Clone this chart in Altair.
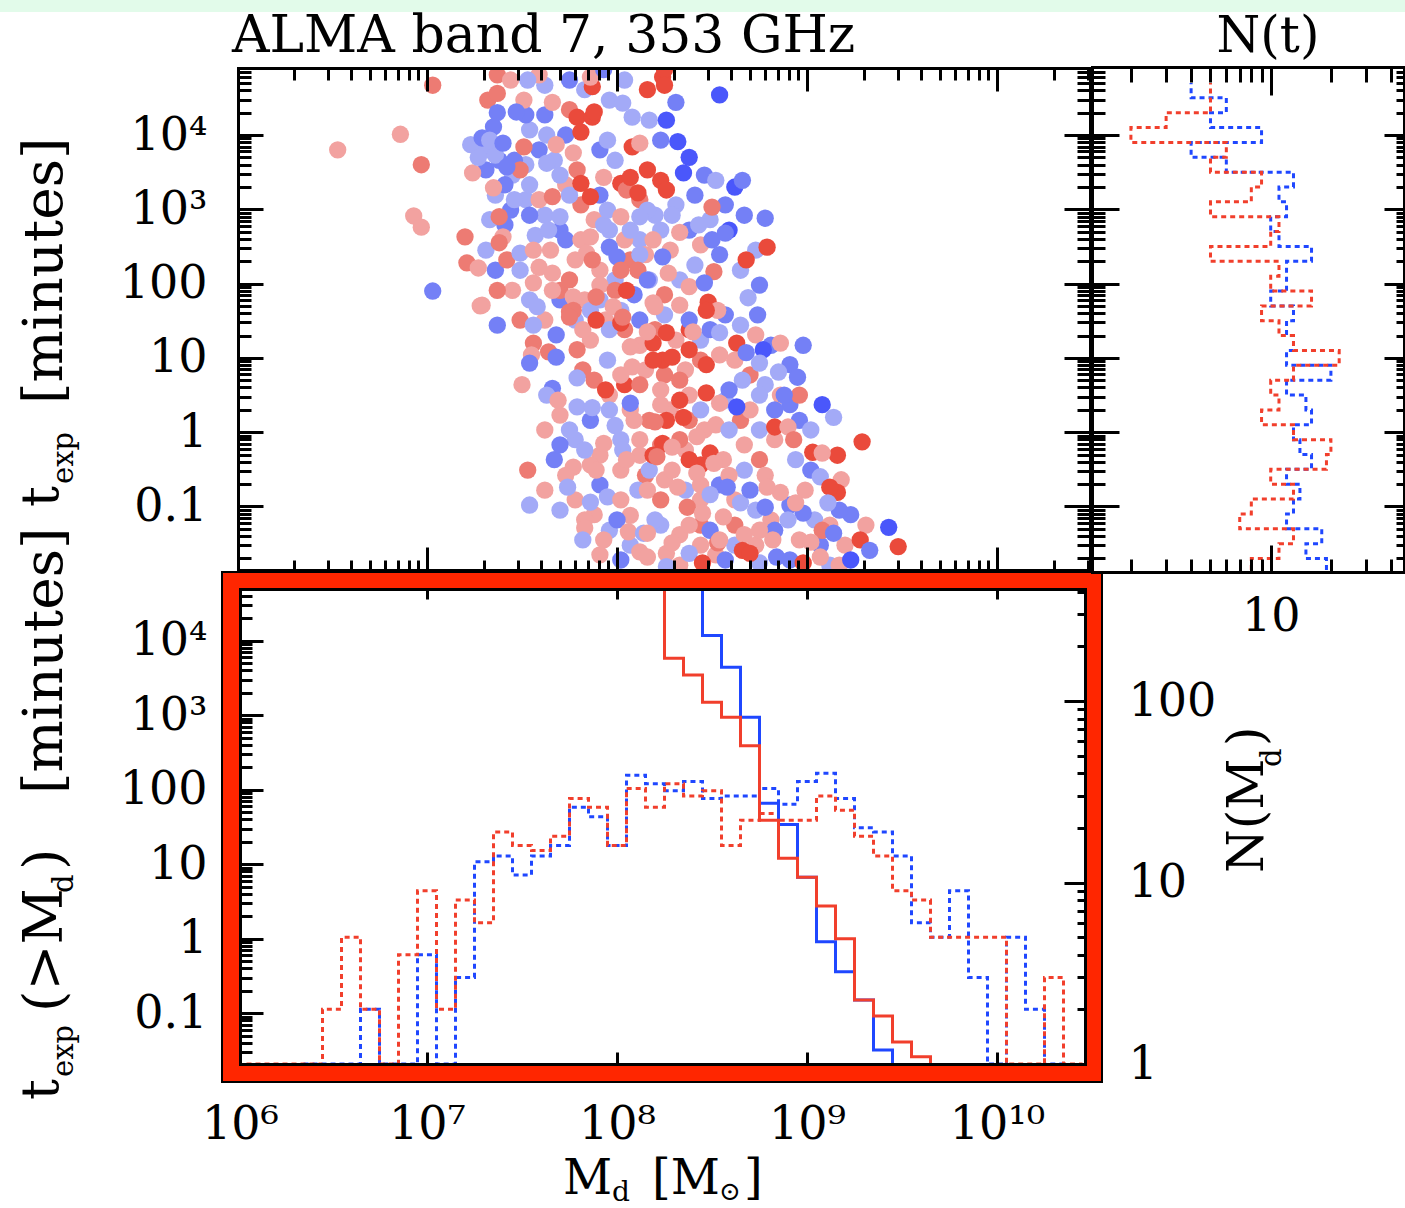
import math
import altair as alt
import pandas as pd

alt.data_transformers.disable_max_rows()

FONT = "DejaVu Serif"
W, H = 1405, 1208

# ============================ DATA ============================
# scatter points: (log10 M_d [Msun], log10 t_exp [min], shade class)
SC_CORE = [
    (7.31, 3.80, 'B1'), (7.38, 3.66, 'B2'), (7.45, 3.46, 'B1'), (7.52, 3.60, 'B1'), (7.59, 3.80, 'B2'),
    (7.67, 3.66, 'B1'), (7.36, 3.19, 'B1'), (7.44, 2.99, 'B2'), (7.52, 3.13, 'B1'), (7.62, 2.92, 'B1'),
    (7.70, 2.72, 'B2'), (7.33, 2.86, 'B1'), (7.41, 2.79, 'B2'), (7.57, 2.65, 'B1'), (7.65, 2.45, 'R1'),
    (7.49, 2.18, 'B1'), (7.31, 2.45, 'B1'), (7.36, 2.18, 'B2'), (7.45, 1.91, 'R1'), (7.54, 1.78, 'B1'),
    (7.62, 1.51, 'R1'), (7.70, 1.78, 'B2'), (7.78, 1.51, 'B1'), (7.86, 1.24, 'R1'), (7.91, 1.78, 'B1'),
    (8.02, 1.64, 'B1'), (8.09, 1.85, 'B2'), (8.17, 2.05, 'B1'), (8.25, 1.85, 'R2'), (8.33, 2.05, 'B1'),
    (8.41, 2.25, 'B1'), (8.44, 2.52, 'R1'), (8.38, 2.72, 'B2'), (8.23, 2.72, 'B1'), (8.28, 2.45, 'R1'),
    (8.12, 2.59, 'B1'),
    (7.73, 3.33, 'R1'), (7.81, 3.06, 'R2'), (7.88, 2.86, 'R1'), (7.96, 2.72, 'B1'), (8.04, 2.59, 'R1'),
    (7.91, 3.19, 'B2'), (8.12, 3.13, 'R2'), (8.20, 2.92, 'B1'), (7.78, 2.32, 'R1'), (7.91, 2.18, 'R1'),
    (7.99, 2.05, 'B1'), (8.07, 2.32, 'R2'), (8.15, 2.39, 'R1'), (7.70, 1.91, 'R2'), (7.83, 1.78, 'R1'),
    (7.94, 1.51, 'R1'), (8.04, 1.38, 'R2'), (8.12, 1.17, 'R1'), (8.20, 1.38, 'R2'), (8.31, 1.24, 'R1'),
    (8.38, 1.38, 'R3'), (8.44, 0.97, 'R2'), (8.36, 0.84, 'R1'), (8.25, 0.77, 'R2'), (8.15, 0.84, 'R1'),
    (8.04, 0.64, 'R3'), (7.96, 0.50, 'R1'), (7.88, 0.70, 'R2'), (8.07, 0.30, 'R1'), (8.17, 0.16, 'R2'),
    (8.28, 0.30, 'R1'), (8.38, 0.16, 'R2'), (8.46, 0.03, 'R1'), (8.12, -0.10, 'R1'), (8.23, -0.17, 'R2'),
    (8.36, -0.24, 'R1'), (8.44, -0.44, 'R3'), (8.02, -0.51, 'R1'), (8.15, -0.58, 'R2'), (7.91, -0.31, 'R1'),
    (8.57, 1.58, 'B2'), (8.65, 1.44, 'B1'), (8.73, 1.31, 'R1'), (8.81, 1.17, 'B2'), (8.62, 0.97, 'R1'),
    (8.70, 0.77, 'R2'), (8.78, 0.64, 'B1'), (8.86, 0.50, 'R1'), (8.57, 0.43, 'B1'), (8.65, 0.16, 'R2'),
    (8.75, 0.03, 'B1'), (8.83, -0.10, 'R1'), (8.91, 0.37, 'B2'), (8.96, 0.50, 'R2'),
    (8.17, -0.51, 'B1'), (8.25, -0.64, 'R1'), (8.36, -0.78, 'B1'), (8.44, -0.91, 'R1'), (8.54, -0.71, 'B2'),
    (8.62, -0.91, 'R1'), (8.73, -1.05, 'B1'), (8.81, -1.18, 'R1'), (8.91, -0.98, 'B2'), (8.99, -0.78, 'R1'),
    (9.04, -1.18, 'B1'), (9.12, -1.25, 'R1'), (9.23, -1.11, 'B2'), (8.23, -1.25, 'B1'), (8.33, -1.38, 'R1'),
    (8.44, -1.25, 'R2'), (8.52, -1.65, 'R1'), (8.62, -1.52, 'B1'), (8.73, -1.52, 'R1'), (8.83, -1.32, 'B2'),
    (8.96, -1.45, 'R1'), (9.07, -1.52, 'B2'), (9.20, -1.52, 'R1'), (9.31, -1.25, 'R1'), (8.07, -1.52, 'B1'),
    (7.96, -1.32, 'B1'), (7.88, -1.11, 'R1'),
    (7.70, 0.23, 'R1'), (7.78, -0.10, 'B1'), (7.86, -0.44, 'R1'), (7.91, -0.71, 'B2'), (7.78, -0.91, 'R1'),
    (7.70, -1.05, 'B1'), (7.83, -1.18, 'R1'), (8.02, -0.10, 'B1'), (8.12, -0.31, 'R1'), (7.67, -0.37, 'B2'),
    (7.62, -0.78, 'R1'), (7.54, -0.98, 'B1'),
    (8.41, 3.19, 'B2'), (8.49, 2.86, 'B1'), (8.59, 2.72, 'B3'), (8.67, 2.92, 'B2'), (8.73, 2.45, 'B1'),
    (8.54, 2.39, 'B2'), (8.65, 2.18, 'B1'), (8.75, 1.98, 'B2'),
]
SC_FILL = [
    (8.07, 2.72, 'B1'), (8.12, 2.39, 'B1'), (7.93, 2.79, 'B1'), (7.70, 2.90, 'B1'), (7.73, 2.59, 'B2'),
    (7.64, 2.72, 'B1'), (7.54, 2.92, 'B2'), (7.46, 3.13, 'B1'), (7.41, 3.33, 'B2'), (7.54, 3.33, 'B1'),
    (7.46, 3.66, 'B2'), (7.23, 3.87, 'B1'), (7.31, 3.53, 'B2'), (7.36, 3.73, 'B1'), (7.70, 3.46, 'B1'),
    (7.75, 3.19, 'B1'), (7.62, 4.27, 'B2'), (7.54, 4.07, 'B1'), (7.52, 4.27, 'B2'), (7.73, 4.00, 'B2'),
    (7.91, 3.80, 'B2'), (7.99, 3.66, 'B1'), (8.17, 4.20, 'B1'), (8.23, 3.93, 'B2'), (8.04, 4.74, 'B1'),
    (7.83, 4.61, 'B1'), (7.75, 4.74, 'B2'), (7.62, 4.67, 'B1'), (7.59, 4.81, 'R1'), (7.91, 1.98, 'R1'),
    (7.99, 1.91, 'R2'), (7.86, 1.64, 'B1'), (7.96, 1.38, 'B1'), (8.12, 1.51, 'B2'), (8.25, 1.58, 'B1'),
    (8.38, 1.51, 'B2'), (8.44, 1.24, 'B1'), (8.49, 1.38, 'B2'), (8.02, 0.77, 'R1'), (8.12, 0.64, 'R2'),
    (8.23, 0.57, 'R1'), (8.33, 0.70, 'R2'), (8.38, 0.50, 'R1'), (8.44, 0.30, 'B1'), (8.52, 0.10, 'R1'),
    (8.38, 1.11, 'R3'), (8.33, 0.43, 'R3'), (8.23, 0.37, 'R1'), (8.09, 0.16, 'R1'), (7.99, 0.09, 'B1'),
    (7.86, 0.16, 'B2'), (7.75, 0.03, 'B1'), (7.70, -0.17, 'B2'), (7.83, -0.24, 'B1'), (8.59, 0.03, 'B1'),
    (8.67, -0.17, 'R1'), (8.75, -0.37, 'R2'), (8.67, -0.51, 'B1'), (8.78, -0.58, 'R1'), (8.59, -0.58, 'R1'),
    (8.44, -0.71, 'R1'), (8.49, -0.84, 'B1'), (8.38, -0.37, 'R3'), (8.33, -0.10, 'R2'), (8.07, -1.12, 'R1'),
    (8.00, -1.18, 'B2'), (8.20, -1.18, 'B1'), (8.38, -1.25, 'R1'), (8.49, -1.32, 'B2'), (8.62, -1.25, 'R2'),
    (8.67, -1.38, 'R1'), (8.44, -1.52, 'R1'), (8.57, -1.72, 'B2'), (8.75, -1.76, 'B1'), (8.91, -1.72, 'B2'),
    (8.02, -1.72, 'B2'), (7.91, -1.65, 'R1'), (8.33, -1.79, 'R1'), (9.12, -1.79, 'B1'), (9.17, -1.79, 'R1'),
    (8.96, 0.16, 'B2'), (9.02, 0.03, 'B1'), (8.94, -0.37, 'B1'), (9.02, -0.51, 'B2'), (8.83, 0.30, 'B2'),
    (8.75, 0.50, 'B1'), (8.91, 0.91, 'B2'),
]
SC_MID = [
    (7.37, 1.44, 'B2'), (7.28, 1.70, 'R1'), (7.49, 1.51, 'R2'), (7.56, 1.44, 'B1'), (7.68, 1.31, 'B2'),
    (7.56, 1.20, 'R2'), (7.55, 1.04, 'R1'), (7.54, 0.93, 'B2'), (7.64, 1.08, 'R2'), (7.68, 1.01, 'B2'),
    (7.79, 1.11, 'R2'), (7.82, 0.84, 'R2'), (7.79, 0.73, 'B1'), (7.66, 0.59, 'B2'), (7.63, 0.50, 'B1'),
    (7.69, 0.43, 'R1'), (7.50, 0.64, 'R1'), (7.79, 0.34, 'B1'), (7.87, 0.33, 'B1'), (7.96, 0.30, 'B1'),
    (7.94, 0.57, 'R3'), (8.07, 0.39, 'B2'), (7.95, 0.97, 'B1'), (8.02, 1.47, 'R3'), (8.07, 1.15, 'R1'),
    (8.08, 0.88, 'R1'), (8.19, 1.20, 'R3'), (8.24, 0.97, 'R3'), (7.82, 1.38, 'R1'), (7.89, 1.51, 'R3'),
    (7.75, 1.62, 'R2'), (7.62, 0.03, 'R1'), (7.93, -0.15, 'R1'), (8.03, -0.24, 'B1'), (8.05, -0.37, 'R1'),
    (8.19, -0.31, 'R3'), (8.24, -0.15, 'R3'), (7.89, -0.51, 'R1'), (7.77, -0.47, 'R1'), (7.73, -0.58, 'R1'),
    (7.74, -0.74, 'B1'), (7.53, -0.51, 'R2'), (7.86, -0.94, 'B1'), (7.95, -0.87, 'B1'), (8.02, -0.91, 'R1'),
    (8.11, -0.78, 'B1'), (8.16, -0.78, 'R1'), (7.83, -1.29, 'R1'), (7.82, -1.45, 'B1'), (7.93, -1.45, 'R1'),
    (8.06, -1.34, 'R1'), (8.14, -1.36, 'B1'), (8.12, -1.61, 'R1'), (8.26, -1.63, 'R1'), (8.26, -1.81, 'B1'),
]
SC_UPLEFT = [
    (7.03, 4.67, 'R2'), (6.86, 4.01, 'R1'), (6.53, 3.80, 'R1'), (6.97, 3.60, 'R2'), (6.93, 2.91, 'R1'),
    (6.97, 2.76, 'R1'), (7.03, 1.90, 'B2'), (7.20, 2.63, 'R2'), (7.21, 2.28, 'R2'), (7.27, 2.21, 'R1'),
    (7.37, 1.91, 'R2'), (7.29, 1.71, 'R1'), (7.35, 3.29, 'R1'), (7.24, 3.49, 'R1'), (7.27, 3.70, 'B1'),
    (7.29, 3.96, 'B2'), (7.32, 4.47, 'R2'), (7.37, 4.56, 'R2'), (7.37, 4.81, 'R2'), (7.44, 4.74, 'R1'),
    (7.53, 4.74, 'B1'), (7.51, 4.47, 'R1'), (7.47, 4.31, 'B2'), (7.37, 4.30, 'B2'), (7.35, 4.11, 'B2'),
    (7.33, 3.93, 'B1'), (7.40, 3.89, 'B2'), (7.51, 3.84, 'R2'), (7.49, 3.53, 'R2'), (7.42, 3.57, 'B2'),
    (7.38, 2.90, 'R2'), (7.40, 2.63, 'R1'), (7.38, 2.55, 'R2'), (7.42, 2.32, 'R2'), (7.49, 2.41, 'B1'),
    (7.56, 2.45, 'R1'), (7.59, 3.13, 'R1'), (7.66, 3.17, 'R2'), (7.63, 3.62, 'B1'), (7.63, 4.00, 'B1'),
    (7.66, 4.44, 'R1'), (7.75, 4.34, 'R2'), (7.79, 4.24, 'R3'), (7.81, 4.04, 'R3'), (7.68, 3.87, 'R1'),
    (7.77, 3.76, 'R1'), (7.79, 3.53, 'R2'), (7.81, 3.35, 'R3'), (7.86, 3.17, 'R3'), (7.87, 4.24, 'R3'),
    (7.88, 4.31, 'R3'), (7.87, 4.65, 'R3'), (7.86, 4.78, 'R1'), (7.93, 4.88, 'B2'), (7.96, 4.47, 'B1'),
    (7.95, 3.93, 'B1'), (8.08, 4.24, 'B1'), (8.03, 4.43, 'B1'), (8.16, 4.61, 'R3'), (8.24, 4.78, 'R3'),
    (8.26, 4.20, 'B3'), (8.08, 3.84, 'R3'), (8.12, 3.89, 'R1'), (8.16, 3.53, 'R3'), (8.23, 3.39, 'R3'),
    (7.93, 3.43, 'R1'), (8.02, 3.35, 'R3'), (8.05, 3.26, 'R2'), (8.11, 3.22, 'R3'), (8.07, 3.43, 'R3'),
    (7.95, 2.99, 'B1'), (8.02, 2.90, 'R1'), (8.16, 2.99, 'B1'), (7.96, 2.49, 'B2'), (8.00, 2.36, 'B2'),
    (8.19, 2.59, 'R1'), (7.81, 2.59, 'R1'), (7.86, 2.63, 'R1'), (7.84, 2.41, 'R1'), (7.87, 2.32, 'R2'),
    (7.59, 2.22, 'R1'), (7.66, 2.14, 'R1'), (7.75, 2.05, 'R2'), (7.66, 1.91, 'R1'), (7.56, 2.01, 'R1'),
    (7.58, 1.69, 'B1'), (7.77, 1.82, 'R1'), (7.89, 1.82, 'R2'), (8.02, 2.18, 'R2'), (8.11, 2.18, 'R2'),
    (8.05, 1.91, 'R3'), (8.19, 1.74, 'R1'), (8.16, 2.05, 'B2'), (8.24, 2.36, 'B2'), (7.98, 1.69, 'R1'),
    (7.77, 1.64, 'R2'), (7.75, 1.55, 'R2'), (8.03, 1.55, 'R2'),
]
SC_UPRIGHT = [
    (8.25, 4.88, 'R3'), (8.25, 4.67, 'R3'), (8.31, 4.44, 'B2'), (8.54, 4.54, 'B3'), (8.32, 3.91, 'B3'),
    (8.38, 3.70, 'B3'), (8.35, 3.49, 'B3'), (8.46, 3.46, 'B2'), (8.52, 3.39, 'B1'), (8.62, 3.30, 'B3'),
    (8.66, 3.39, 'B2'), (8.57, 3.06, 'B2'), (8.50, 3.03, 'R2'), (8.26, 3.26, 'R3'), (8.31, 3.06, 'B1'),
    (8.29, 2.92, 'B1'), (8.43, 2.79, 'B1'), (8.33, 2.69, 'R1'), (8.50, 2.59, 'B2'), (8.57, 2.68, 'B2'),
    (8.78, 2.88, 'B2'), (8.79, 2.49, 'R3'), (8.68, 2.32, 'R3'), (8.51, 2.16, 'R2'), (8.27, 2.14, 'R1'),
    (8.38, 1.96, 'R1'), (8.46, 2.01, 'B2'), (8.48, 1.75, 'R3'), (8.53, 1.64, 'R1'), (8.69, 1.81, 'B1'),
    (8.74, 1.58, 'B2'), (8.20, 1.69, 'R1'), (8.33, 1.71, 'R1'), (8.12, 2.90, 'B1'),
]
SC_LOWRIGHT = [
    (8.98, 1.17, 'B2'), (8.86, 1.20, 'R1'), (8.95, 0.74, 'B2'), (8.85, 0.81, 'B1'), (8.88, 0.50, 'B2'),
    (9.08, 0.37, 'B3'), (9.14, 0.20, 'B1'), (9.29, -0.13, 'R3'), (8.83, 0.07, 'R3'), (8.90, 0.07, 'R1'),
    (8.93, -0.10, 'R2'), (9.03, -0.27, 'R3'), (9.16, -0.31, 'R3'), (9.08, -0.28, 'R1'), (9.07, -0.60, 'B1'),
    (9.18, -0.64, 'R1'), (9.16, -0.81, 'R3'), (9.12, -0.74, 'R3'), (9.17, -1.05, 'B2'), (9.11, -0.95, 'B1'),
    (9.08, -1.32, 'R2'), (9.14, -1.36, 'B2'), (9.28, -1.45, 'R3'), (9.33, -1.59, 'B2'), (9.43, -1.28, 'B3'),
    (9.48, -1.54, 'R3'), (9.23, -1.72, 'B3'), (9.02, -1.48, 'R1'), (8.98, -1.09, 'B2'), (8.94, -0.95, 'R1'),
    (8.86, -0.81, 'R1'), (8.79, -0.74, 'R1'), (8.78, -1.01, 'B2'), (8.90, -1.18, 'B1'), (8.75, -1.32, 'R1'),
    (8.82, -1.45, 'R1'), (8.66, -1.59, 'R3'), (8.53, -1.49, 'R2'), (8.70, 0.30, 'R1'), (8.63, 0.34, 'B3'),
    (8.63, 1.20, 'R3'), (8.77, 1.11, 'B3'), (8.68, 1.07, 'B2'), (8.75, 0.93, 'B1'), (8.66, 0.70, 'B1'),
    (8.59, 0.57, 'B2'), (8.54, 1.34, 'B1'), (8.47, 1.64, 'R3'), (8.40, 1.35, 'R1'), (8.26, 1.34, 'R3'),
    (8.16, 1.35, 'R1'), (8.29, 1.01, 'R3'), (8.19, 0.97, 'R3'), (8.47, 0.91, 'R3'), (8.54, 1.04, 'R1'),
    (8.47, 0.53, 'R3'), (8.54, 0.39, 'R1'), (8.26, 0.16, 'R3'), (8.35, 0.20, 'R3'), (8.20, 0.14, 'R2'),
    (8.21, -0.33, 'R2'), (8.29, -0.20, 'R1'), (8.49, -0.28, 'R3'), (8.56, -0.37, 'R1'), (8.42, -0.06, 'R1'),
    (8.29, -0.51, 'R1'), (8.42, -0.55, 'R1'), (8.51, -0.42, 'R1'), (8.23, -0.91, 'R2'), (8.37, -1.01, 'R2'),
    (8.45, -1.09, 'R1'), (8.56, -1.14, 'R1'), (8.65, -0.95, 'B1'), (8.58, -0.74, 'B2'), (8.70, -0.78, 'B2'),
    (8.32, -0.74, 'R1'), (8.16, -1.36, 'R1'), (8.29, -1.49, 'R1'), (8.38, -1.63, 'B1'), (8.54, -1.45, 'R1'),
    (8.16, -1.68, 'R1'), (8.45, -1.76, 'R3'), (8.70, -1.63, 'R3'), (8.84, -1.68, 'B2'), (9.07, -1.68, 'R1'),
    (8.98, -1.76, 'R3'),
]
SHADES = ['B1', 'B2', 'B3', 'R1', 'R2', 'R3']
SHADE_COLORS = ['#a3aaf7', '#7480f6', '#4a57fb', '#f2a2a0', '#ed7b73', '#ea4a3b']

# N(t) histograms: lower bin edges in log10 t_exp (bins of 0.2 dex), counts
NT_LO = [-1.9, -1.7, -1.5, -1.3, -1.1, -0.9, -0.7, -0.5, -0.3, -0.1, 0.1, 0.3, 0.5, 0.7, 0.9, 1.1, 1.3,
         1.5, 1.7, 1.9, 2.1, 2.3, 2.5, 2.7, 2.9, 3.1, 3.3, 3.5, 3.7, 3.9, 4.1, 4.3, 4.5]
NT_BLUE = [19, 15, 18, 12, 13, 14, 12, 16, 14, 13, 16, 15, 12, 20, 12, 13, 12, 13, 10, 12, 12, 16, 11,
           10, 12, 11, 13, 6, 4, 9, 5, 6, 4]
NT_RED = [8, 11, 13, 7, 8, 13, 10, 19, 20, 13, 9, 11, 10, 13, 22, 13, 11, 9, 16, 10, 11, 5, 10, 11, 5,
          8, 9, 5, 6, 2, 3, 5, 5]

# N(M_d) histograms: bin centres in log10 M_d (bins of 0.1 dex), counts
NM_RED_C = [6.1, 6.2, 6.3, 6.4, 6.5, 6.6, 6.7, 6.8, 6.9, 7.0, 7.1, 7.2, 7.3, 7.4, 7.5, 7.6, 7.7, 7.8, 7.9,
            8.0, 8.1, 8.2, 8.3, 8.4, 8.5, 8.6, 8.7, 8.8, 8.9, 9.0, 9.1, 9.2, 9.3, 9.4, 9.5, 9.6, 9.7, 9.8,
            9.9, 10.0, 10.1, 10.2, 10.3, 10.4]
NM_RED = [1, 1, 1, 1, 2, 5, 2, 1, 4, 9, 2, 8, 6, 19, 16, 15, 18, 29, 26, 16, 33, 26, 35, 30, 32, 16, 22,
          24, 22, 22, 30, 25, 18, 14, 9, 8, 5, 5, 5, 5, 1, 1, 3, 1]
NM_BLUE_C = [6.4, 6.5, 6.6, 6.7, 6.8, 6.9, 7.0, 7.1, 7.2, 7.3, 7.4, 7.5, 7.6, 7.7, 7.8, 7.9, 8.0, 8.1,
             8.2, 8.3, 8.4, 8.5, 8.6, 8.7, 8.8, 8.9, 9.0, 9.1, 9.2, 9.3, 9.4, 9.5, 9.6, 9.7, 9.8, 9.9,
             10.0, 10.1, 10.2, 10.3]
NM_BLUE = [1, 1, 1, 2, 1, 1, 4, 1, 3, 13, 14, 11, 14, 16, 26, 23, 16, 39, 35, 32, 36, 29, 30, 30, 33,
           27, 36, 40, 29, 20, 19, 14, 6, 5, 9, 3, 1, 5, 2, 1]

# cumulative exposure time t_exp(>M_d) [minutes], bin centres in log10 M_d
CUM_RED_C = [8.3, 8.4, 8.5, 8.6, 8.7, 8.8, 8.9, 9.0, 9.1, 9.2, 9.3, 9.4, 9.5, 9.6]
CUM_RED = [5800, 3460, 1490, 937, 390, 39, 12, 6.7, 2.75, 1.0, 0.15, 0.092, 0.041, 0.026]
CUM_BLUE_C = [8.5, 8.6, 8.7, 8.8, 8.9, 9.0, 9.1, 9.2, 9.3, 9.4]
CUM_BLUE = [11700, 4400, 937, 65.7, 34, 6.7, 0.91, 0.36, 0.15, 0.032]

LINE_RED = '#f13f2c'
LINE_BLUE = '#1f47ff'
FRAME_RED = '#ff2600'
BAND_GREEN = '#e2fbea'

# ============================ LAYOUT ============================
TX0, TX1, TY0, TY1 = 238, 1090, 68, 570      # scatter panel
NX0, NX1, NY1 = 1092, 1404, 572              # N(t) panel
BX0, BX1, BY0, BY1 = 240, 1085, 589, 1064    # bottom panel


def lg_m(p): return 6 + (p - 237.0) / 190.0
def lg_ttop(p): return (432.2 - p) / 74.3
def lg_tbot(p): return (938.7 - p) / 74.5
def lg_nm(p): return (1064.0 - p) / 181.5
def lg_nt(p): return (p - 1070.7) / 200.0


SCALES = {
    'xtop': (lg_m(TX0), lg_m(TX1), TX0, TX1),
    'ytop': (lg_ttop(TY1), lg_ttop(TY0), TY1, TY0),
    'xnt': (lg_nt(NX0), lg_nt(NX1), NX0, NX1),
    'xbot': (lg_m(BX0), lg_m(BX1), BX0, BX1),
    'ybot': (lg_tbot(BY1), lg_tbot(BY0), BY1, BY0),
    'ynm': (0.0, lg_nm(BY0), BY1, BY0),
}


def sc(key):
    a, b, r0, r1 = SCALES[key]
    return alt.Scale(type='log', domain=[10 ** a, 10 ** b], range=[r0, r1], nice=False, clamp=True)


def mid(key):
    a, b, _, _ = SCALES[key]
    return 10 ** ((a + b) / 2)


def decades(key):
    a, b, _, _ = SCALES[key]
    return [10.0 ** k for k in range(math.floor(a), math.ceil(b) + 1) if a <= k <= b]


def minors(key):
    a, b, _, _ = SCALES[key]
    out = []
    for k in range(math.floor(a) - 1, math.ceil(b) + 1):
        for m in range(2, 10):
            v = m * 10.0 ** k
            if a <= math.log10(v) <= b:
                out.append(v)
    return out


ONE = pd.DataFrame({'a': [0]})


def tick_axis(orient, offset, values, size, domain):
    return alt.Axis(orient=orient, offset=offset, values=values, title=None, grid=False, labels=False,
                    domain=domain, domainColor='black', domainWidth=3, domainCap='square',
                    ticks=True, tickSize=size, tickWidth=3, tickColor='black', zindex=2)


def label_axis(orient, offset, values, expr, pad):
    return alt.Axis(orient=orient, offset=offset, values=values, title=None, grid=False, domain=False,
                    ticks=False, tickSize=0, labels=True, labelExpr=expr, labelFont=FONT,
                    labelFontSize=46, labelColor='black', labelPadding=pad, labelOverlap=False,
                    labelFlush=False, labelBound=False, zindex=2)


def axis_layer(channel, key, axis):
    df = pd.DataFrame({'v': [mid(key)]})
    if channel == 'x':
        enc = dict(x=alt.X('v:Q', scale=sc(key), axis=axis))
    else:
        enc = dict(y=alt.Y('v:Q', scale=sc(key), axis=axis))
    return alt.Chart(df).mark_point(opacity=0).encode(**enc)


def rect(x, x2, y, y2, fill, stroke=None, sw=0):
    kw = dict(fill=fill)
    if stroke:
        kw.update(stroke=stroke, strokeWidth=sw)
    return alt.Chart(ONE).mark_rect(**kw).encode(
        x=alt.value(x), x2=alt.value(x2), y=alt.value(y), y2=alt.value(y2))


def txt(s, x, y, size, angle=0, align='left'):
    return alt.Chart(ONE).mark_text(text=s, font=FONT, fontSize=size, angle=angle, align=align,
                                    baseline='alphabetic', color='black').encode(
        x=alt.value(x), y=alt.value(y))


def line_layer(df, xf, yf, xkey, ykey, color, dash=None, width=3.0):
    kw = dict(color=color, strokeWidth=width, strokeCap='butt', strokeJoin='miter')
    if dash:
        kw['strokeDash'] = dash
    return alt.Chart(df).mark_line(**kw).encode(
        x=alt.X(xf + ':Q', scale=sc(xkey), axis=None),
        y=alt.Y(yf + ':Q', scale=sc(ykey), axis=None),
        order='i:Q')


def hist_path(centers, counts, half=0.05):
    xs, ys = [], []
    for c, n in zip(centers, counts):
        xs += [10 ** (c - half), 10 ** (c + half)]
        ys += [n, n]
    return pd.DataFrame({'m': xs, 'n': ys, 'i': range(len(xs))})


def cum_path(centers, vals, top, bottom, half=0.05):
    xs = [10 ** (centers[0] - half)]
    ys = [top]
    for c, v in zip(centers, vals):
        xs += [10 ** (c - half), 10 ** (c + half)]
        ys += [v, v]
    xs.append(10 ** (centers[-1] + half))
    ys.append(bottom)
    return pd.DataFrame({'m': xs, 't': ys, 'i': range(len(xs))})


def nt_path(lows, counts, width=0.2):
    xs, ys = [], []
    for lo, n in zip(lows, counts):
        xs += [n, n]
        ys += [10 ** lo, 10 ** (lo + width)]
    return pd.DataFrame({'n': xs, 't': ys, 'i': range(len(xs))})


# ============================ LAYERS ============================
layers = []
layers.append(rect(0, W, 0, 12, BAND_GREEN))

# scatter
pts = SC_CORE + SC_FILL + SC_MID + SC_UPLEFT + SC_UPRIGHT + SC_LOWRIGHT
scdf = pd.DataFrame(pts, columns=['lgm', 'lgt', 'cls'])
scdf['m'] = 10 ** scdf['lgm']
scdf['t'] = 10 ** scdf['lgt']
scdf['i'] = range(len(scdf))
layers.append(alt.Chart(scdf).mark_circle(size=300, opacity=1).encode(
    x=alt.X('m:Q', scale=sc('xtop'), axis=None),
    y=alt.Y('t:Q', scale=sc('ytop'), axis=None),
    color=alt.Color('cls:N', scale=alt.Scale(domain=SHADES, range=SHADE_COLORS), legend=None),
    order='i:Q'))

# mask above panel, left strip, red frame, inner white
layers.append(rect(0, W, 12, TY0 - 1, 'white'))
layers.append(rect(0, 10, 12, H, 'white'))
layers.append(rect(222, 1102, 572, 1082, FRAME_RED, 'black', 2))
layers.append(rect(BX0, BX1, BY0, BY1, 'white'))

# N(t) histograms
layers.append(line_layer(nt_path(NT_LO, NT_BLUE), 'n', 't', 'xnt', 'ytop', LINE_BLUE, [5, 4], 3))
layers.append(line_layer(nt_path(NT_LO, NT_RED), 'n', 't', 'xnt', 'ytop', LINE_RED, [5, 4], 3))

# bottom panel lines
layers.append(line_layer(hist_path(NM_BLUE_C, NM_BLUE), 'm', 'n', 'xbot', 'ynm', LINE_BLUE, [5, 4], 3))
layers.append(line_layer(hist_path(NM_RED_C, NM_RED), 'm', 'n', 'xbot', 'ynm', LINE_RED, [5, 4], 3))
tb0, tb1 = 10 ** SCALES['ybot'][0], 10 ** SCALES['ybot'][1]
layers.append(line_layer(cum_path(CUM_BLUE_C, CUM_BLUE, tb1, tb0), 'm', 't', 'xbot', 'ybot', LINE_BLUE, None, 3))
layers.append(line_layer(cum_path(CUM_RED_C, CUM_RED, tb1, tb0), 'm', 't', 'xbot', 'ybot', LINE_RED, None, 3))

# ---- axes ----
T_EXPR = ("datum.value > 5000 ? '10\u2074' : datum.value > 500 ? '10\u00b3' : datum.value > 50 ? '100' : "
          "datum.value > 5 ? '10' : datum.value > 0.5 ? '1' : '0.1'")
M_EXPR = ("datum.value < 3e6 ? '10\u2076' : datum.value < 3e7 ? '10\u2077' : datum.value < 3e8 ? '10\u2078' : "
          "datum.value < 3e9 ? '10\u2079' : '10\u00b9\u2070'")
NM_EXPR = "datum.value > 50 ? '100' : datum.value > 5 ? '10' : '1'"

# scatter panel
layers += [
    axis_layer('y', 'ytop', tick_axis('right', TX0 - W, decades('ytop'), 25, True)),
    axis_layer('y', 'ytop', tick_axis('right', TX0 - W, minors('ytop'), 13, False)),
    axis_layer('y', 'ytop', tick_axis('left', -TX1, decades('ytop'), 26, True)),
    axis_layer('y', 'ytop', tick_axis('left', -TX1, minors('ytop'), 13, False)),
    axis_layer('x', 'xtop', tick_axis('bottom', TY0 - H, decades('xtop'), 23, True)),
    axis_layer('x', 'xtop', tick_axis('bottom', TY0 - H, minors('xtop'), 12, False)),
    axis_layer('x', 'xtop', tick_axis('top', -TY1, decades('xtop'), 23, True)),
    axis_layer('x', 'xtop', tick_axis('top', -TY1, minors('xtop'), 10, False)),
    axis_layer('y', 'ytop', label_axis('left', -TX0, [0.1, 1, 10, 100, 1000, 10000], T_EXPR, 31)),
]
# N(t) panel
layers += [
    axis_layer('y', 'ytop', tick_axis('right', NX0 - W, decades('ytop'), 27, True)),
    axis_layer('y', 'ytop', tick_axis('right', NX0 - W, minors('ytop'), 13, False)),
    axis_layer('y', 'ytop', tick_axis('left', -NX1, decades('ytop'), 20, True)),
    axis_layer('y', 'ytop', tick_axis('left', -NX1, minors('ytop'), 8, False)),
    axis_layer('x', 'xnt', tick_axis('bottom', TY0 - 1 - H, decades('xnt'), 28, True)),
    axis_layer('x', 'xnt', tick_axis('bottom', TY0 - 1 - H, minors('xnt'), 15, False)),
    axis_layer('x', 'xnt', tick_axis('top', -NY1, decades('xnt'), 27, True)),
    axis_layer('x', 'xnt', tick_axis('top', -NY1, minors('xnt'), 13, False)),
    axis_layer('x', 'xnt', label_axis('bottom', NY1 - H, [10], "'10'", 22)),
]
# bottom panel
layers += [
    axis_layer('y', 'ybot', tick_axis('right', BX0 - W, decades('ybot'), 23, True)),
    axis_layer('y', 'ybot', tick_axis('right', BX0 - W, minors('ybot'), 12, False)),
    axis_layer('y', 'ybot', label_axis('left', -BX0, [0.1, 1, 10, 100, 1000, 10000], T_EXPR, 33)),
    axis_layer('x', 'xbot', tick_axis('bottom', BY0 - H, decades('xbot'), 10, True)),
    axis_layer('x', 'xbot', tick_axis('top', -BY1, decades('xbot'), 12, True)),
    axis_layer('x', 'xbot', label_axis('bottom', BY1 - H, [1e6, 1e7, 1e8, 1e9, 1e10], M_EXPR, 38)),
    axis_layer('y', 'ynm', tick_axis('left', -BX1, decades('ynm'), 21, True)),
    axis_layer('y', 'ynm', tick_axis('left', -BX1, minors('ynm'), 8, False)),
    axis_layer('y', 'ynm', label_axis('right', BX1 - W, [1, 10, 100], NM_EXPR, 43)),
]

# ---- titles (text with sub-scripts) ----
layers += [
    txt('ALMA band 7, 353 GHz', 232, 52, 52),
    txt('N(t)', 1268, 52, 50, align='center'),
    # top-left axis title
    txt('t', 58, 507, 52, angle=270),
    txt('exp', 73, 484, 29, angle=270),
    txt('[minutes]', 62, 404, 55, angle=270),
    # bottom-left axis title
    txt('t', 58, 1100, 52, angle=270),
    txt('exp', 73, 1077, 29, angle=270),
    txt('(>M', 62, 1012, 55, angle=270),
    txt('d', 73, 893, 29, angle=270),
    txt(')', 62, 870, 55, angle=270),
    txt('[minutes]', 62, 794, 55, angle=270),
    # right axis title
    txt('N(M', 1263, 873, 50, angle=270),
    txt('d', 1281, 767, 29, angle=270),
    txt(')', 1263, 746, 50, angle=270),
    # bottom x title
    txt('M', 563, 1194, 48),
    txt('d', 612, 1201, 28),
    txt('[M', 652, 1194, 48),
    txt('\u2299', 719, 1200, 26),
    txt(']', 744, 1194, 48),
]

chart = alt.layer(*layers).resolve_scale(x='independent', y='independent').properties(
    width=W, height=H, autosize=alt.AutoSizeParams(type='none'), padding=0
).configure_view(stroke=None).configure(background='white')

chart.save('out.html', embed_options={'renderer': 'svg', 'actions': False})
